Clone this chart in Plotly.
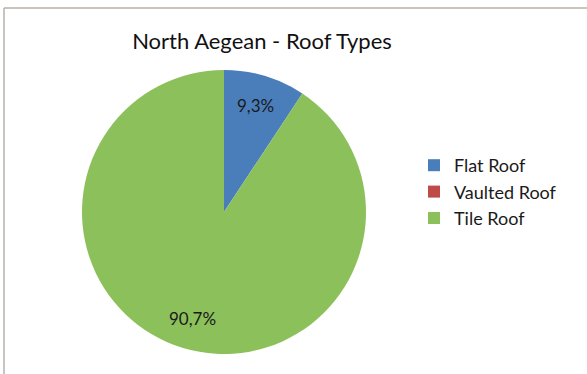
import math
import plotly.graph_objects as go

categories = ["Flat Roof", "Vaulted Roof", "Tile Roof"]
values = [9.3, 0.0, 90.7]
colors = ["#4a7ebb", "#be4b48", "#8cc05b"]

W, H = 587, 374

def px_x(x):
    return x / W

def px_y(y):
    return 1 - y / H

# pie geometry in pixels
CX, CY, R = 224, 212, 142
LABEL_R = 0.78

fig = go.Figure(go.Pie(
    labels=categories,
    values=values,
    sort=False,
    direction="clockwise",
    rotation=0,
    marker=dict(colors=colors, line=dict(width=0)),
    textinfo="none",
    hoverinfo="label+percent",
    domain=dict(x=[px_x(CX - R), px_x(CX + R)], y=[px_y(CY + R), px_y(CY - R)]),
    showlegend=True,
))

# data labels placed at mid-angle of each slice
annotations = []
total = sum(values)
cum = 0.0
for v in values:
    if v > 0:
        mid = (cum + v / 2) / total * 2 * math.pi
        lx = CX + LABEL_R * R * math.sin(mid)
        ly = CY - LABEL_R * R * math.cos(mid)
        annotations.append(dict(
            x=px_x(lx), y=px_y(ly), xref="paper", yref="paper",
            text=f"{v:.1f}%".replace(".", ","), showarrow=False,
            xanchor="center", yanchor="middle",
            font=dict(family="Lato, 'Open Sans', sans-serif", size=17, color="#1a1a1a"),
        ))
    cum += v

fig.update_layout(
    width=W, height=H,
    margin=dict(l=0, r=0, t=0, b=0),
    paper_bgcolor="white",
    plot_bgcolor="white",
    separators=",.",
    annotations=annotations,
    title=dict(
        text="North Aegean - Roof Types",
        x=px_x(262), xanchor="center",
        y=px_y(41), yanchor="middle",
        font=dict(family="Lato, 'Open Sans', sans-serif", size=22, color="#111111"),
    ),
    legend=dict(
        x=px_x(414), xanchor="left",
        y=px_y(192), yanchor="middle",
        font=dict(family="Lato, 'Open Sans', sans-serif", size=18, color="#1a1a1a"),
        itemwidth=30,
        bgcolor="rgba(0,0,0,0)",
    ),
    shapes=[
        dict(type="line", xref="paper", yref="paper",
             x0=px_x(4), x1=px_x(4), y0=0, y1=px_y(8),
             line=dict(color="#b8b0ac", width=1.5)),
        dict(type="line", xref="paper", yref="paper",
             x0=px_x(4), x1=1, y0=px_y(8), y1=px_y(8),
             line=dict(color="#b8b0ac", width=1.5)),
    ],
)

fig.write_html(
    "out.html",
    config={"displayModeBar": False},
    post_script="document.body.style.margin='0';document.body.style.overflow='hidden';",
)
